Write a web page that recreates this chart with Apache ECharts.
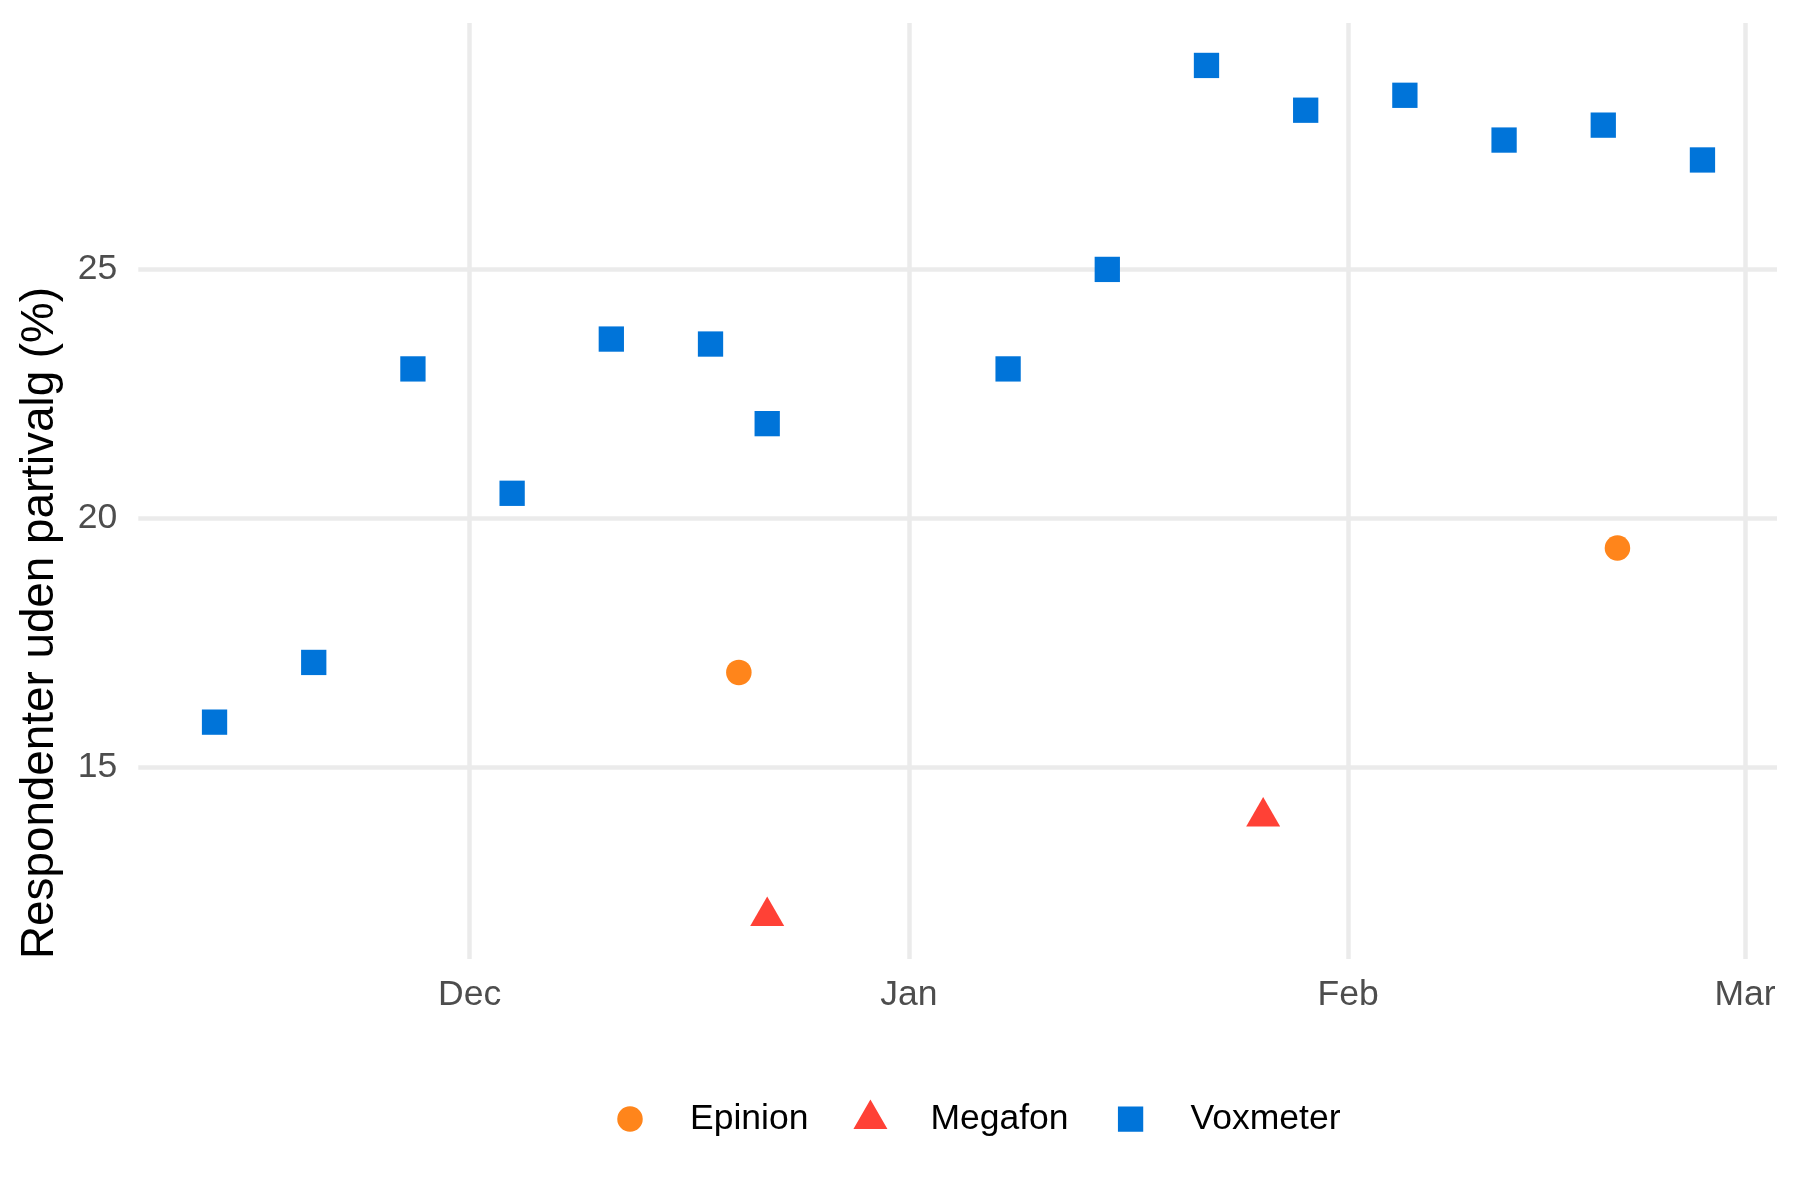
<!DOCTYPE html>
<html>
<head>
<meta charset="utf-8">
<script src="https://cdn.jsdelivr.net/npm/echarts@6/dist/echarts.min.js"></script>
<style>
  html, body { margin: 0; padding: 0; background: #ffffff; }
  #chart { width: 1800px; height: 1200px; }
</style>
</head>
<body>
<div id="chart"></div>
<script>
// ---- data ----
const voxmeterDates = ['2022-11-13','2022-11-20','2022-11-27','2022-12-04','2022-12-11','2022-12-18','2022-12-22',
  '2023-01-08','2023-01-15','2023-01-22','2023-01-29','2023-02-05','2023-02-12','2023-02-19','2023-02-26'];
const voxmeterValues = [15.9, 17.1, 23.0, 20.5, 23.6, 23.5, 21.9, 23.0, 25.0, 29.1, 28.2, 28.5, 27.6, 27.9, 27.2];
const epinionDates = ['2022-12-20', '2023-02-20'];
const epinionValues = [16.9, 19.4];
const megafonDates = ['2022-12-22', '2023-01-26'];
const megafonValues = [12.0, 14.0];
const monthTickDates = ['2022-12-01', '2023-01-01', '2023-02-01', '2023-03-01'];
const monthTickLabels = ['Dec', 'Jan', 'Feb', 'Mar'];
const yTicks = [15, 20, 25];
const yTitle = 'Respondenter uden partivalg (%)';

// ---- helpers ----
const DAY = 86400000;
function toTs(s) { const p = s.split('-').map(Number); return Date.UTC(p[0], p[1] - 1, p[2]); }
function pairs(dates, vals) { return dates.map((d, i) => [toTs(d), vals[i]]); }
const monthTicks = monthTickDates.map(toTs);

const FONT = '"Liberation Sans", Arial, Helvetica, sans-serif';
const AXIS_FS = 35.5;
const TITLE_FS = 45.8;

// legend key icons: all share a 34 x 39.2 box with the mark centred at (17, 19.6)
const BOX = ' M0,0 L0.001,0 L0,0.001 Z M34,39.2 L33.999,39.2 L34,39.199 Z';
const ICON_CIRCLE = 'path://M4.25,19.6 A12.75,12.75 0 1 1 29.75,19.6 A12.75,12.75 0 1 1 4.25,19.6 Z' + BOX;
const ICON_TRIANGLE = 'path://M17,0 L34,29.4 L0,29.4 Z' + BOX;
const ICON_SQUARE = 'path://M4.35,6.95 L29.65,6.95 L29.65,32.25 L4.35,32.25 Z' + BOX;

const chart = echarts.init(document.getElementById('chart'), null, { renderer: 'canvas' });

const option = {
  animation: false,
  backgroundColor: '#ffffff',
  grid: { left: 138.3, right: 23, top: 23, bottom: 241, containLabel: false },
  xAxis: {
    type: 'value',
    min: toTs('2022-12-01') - 23.38 * DAY,
    max: toTs('2023-03-01') + 2.26 * DAY,
    axisLine: { show: false },
    axisTick: { show: false, customValues: monthTicks },
    axisLabel: {
      customValues: monthTicks,
      margin: 18,
      color: '#4D4D4D',
      fontFamily: FONT,
      fontSize: AXIS_FS,
      hideOverlap: false,
      formatter: function (v) {
        const i = monthTicks.findIndex(t => Math.abs(t - v) < 1000);
        return i >= 0 ? monthTickLabels[i] : '';
      }
    },
    splitLine: { show: true, lineStyle: { color: '#EBEBEB', width: 4.5 } }
  },
  yAxis: {
    type: 'value',
    min: 11.139,
    max: 29.953,
    axisLine: { show: false },
    axisTick: { show: false, customValues: yTicks },
    axisLabel: {
      customValues: yTicks,
      margin: 21,
      color: '#4D4D4D',
      fontFamily: FONT,
      fontSize: AXIS_FS
    },
    splitLine: { show: true, lineStyle: { color: '#EBEBEB', width: 4.5 } }
  },
  legend: {
    data: [
      { name: 'Epinion', icon: ICON_CIRCLE },
      { name: 'Megafon', icon: ICON_TRIANGLE },
      { name: 'Voxmeter', icon: ICON_SQUARE }
    ],
    orient: 'horizontal',
    left: 613, top: 1099.5,
    padding: 0,
    itemWidth: 34, itemHeight: 46,
    itemGap: 45,
    symbolKeepAspect: true,
    selectedMode: false,
    textStyle: {
      fontFamily: FONT, fontSize: AXIS_FS, color: '#000000',
      padding: [2, 0, 0, 38]
    }
  },
  graphic: [{
    type: 'text',
    x: 40, y: 959,
    rotation: Math.PI / 2,
    style: {
      text: yTitle,
      fontFamily: FONT,
      fontSize: TITLE_FS,
      fill: '#000000',
      align: 'left',
      verticalAlign: 'middle'
    }
  }],
  series: [
    {
      name: 'Epinion', type: 'scatter',
      symbol: 'circle', symbolSize: 25.5,
      itemStyle: { color: '#FF851B', opacity: 1 },
      data: pairs(epinionDates, epinionValues)
    },
    {
      name: 'Megafon', type: 'scatter',
      symbol: 'triangle', symbolSize: [34, 29.4], symbolOffset: [0, -4.9],
      itemStyle: { color: '#FF4136', opacity: 1 },
      data: pairs(megafonDates, megafonValues)
    },
    {
      name: 'Voxmeter', type: 'scatter',
      symbol: 'rect', symbolSize: 25.3,
      itemStyle: { color: '#0074D9', opacity: 1 },
      data: pairs(voxmeterDates, voxmeterValues)
    }
  ]
};
chart.setOption(option);
</script>
</body>
</html>
